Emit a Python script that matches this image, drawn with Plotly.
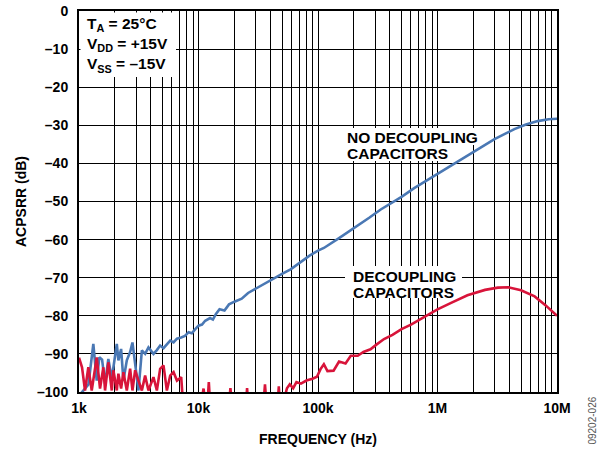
import plotly.graph_objects as go

# ---------------- data ----------------
freq_no_decoupling = [
    1000, 1200, 1318, 1407, 1480, 1560, 1652, 1760, 1880, 2072, 2136, 2251,
    2353, 2513, 2678, 2801, 2951, 3146, 3358, 3576, 3814, 4199, 4483, 4776,
    5095, 5436, 5796, 6185, 6600, 7165, 7700, 8268, 8800, 9397, 10000, 10700,
    11383, 12500, 13200, 14000, 15000, 16500, 18000, 20000, 23000, 26000,
    31000, 36000, 42000, 50000, 59000, 71000, 85000, 100000, 112000, 150000,
    200000, 270000, 335000, 407000, 500000, 638000, 800000, 1000000, 1300000,
    1700000, 2310000, 3000000, 3700000, 4400000, 5500000, 6900000, 8500000,
    10000000,
]
acpsrr_no_decoupling = [
    -101.0, -98.0, -87.4, -97.0, -90.9, -91.5, -97.8, -91.3, -96.5, -87.4, -91.7, -88.7,
    -97.0, -91.7, -89.5, -87.0, -92.6, -99.6, -89.1, -90.0, -88.3, -90.0, -89.0, -87.8,
    -88.5, -87.6, -86.5, -87.0, -86.0, -85.7, -85.3, -84.3, -84.6, -83.5, -82.6, -82.3,
    -81.3, -80.6, -81.0, -79.5, -78.3, -78.6, -77.0, -76.3, -75.5, -74.0,
    -72.6, -71.6, -70.3, -69.0, -67.8, -65.9, -64.2, -62.9, -62.2, -59.6,
    -57.0, -54.2, -52.1, -50.6, -48.8, -46.5, -44.6, -42.8, -40.5,
    -38.3, -35.8, -33.6, -32.2, -31.0, -29.8, -28.9, -28.4,
    -28.3,
]

freq_decoupling = [
    1000, 1019, 1060, 1123, 1197, 1278, 1407, 1500, 1599, 1652, 1760, 1880,
    1940, 2072, 2136, 2251, 2353, 2513, 2678, 2801, 2951, 3146, 3358, 3576,
    3814, 4199, 4483, 4776, 5095, 5436, 5796, 6185, 6600, 7165, 7347,
    9000, 10500, 11027, 11400, 11900, 12200, 12500, 18000, 18500, 19000,
    25000, 25500, 26000, 35000, 36000, 37000, 46000, 47000, 48000,
    53000, 55000, 58000, 62000, 66000, 72000, 80000, 90000, 98000, 105000,
    112000, 120000, 135000, 150000, 170000, 188000, 215000, 240000, 275000,
    310000, 357000, 420000, 500000, 600000, 750000, 1000000, 1300000, 1780000,
    2500000, 3200000, 3900000, 5000000, 6500000, 8000000, 10000000,
]
acpsrr_decoupling = [
    -91.0, -91.7, -93.5, -99.6, -93.5, -99.6, -90.9, -99.1, -93.5, -99.6, -92.2, -99.6,
    -94.3, -99.6, -95.2, -99.1, -94.8, -99.6, -93.9, -99.6, -94.3, -97.0, -99.6, -95.7,
    -99.6, -96.1, -99.6, -93.9, -93.0, -99.6, -95.7, -94.8, -97.0, -96.1, -101.0,
    -103.0, -103.0, -99.1, -103.0, -103.0, -97.4, -103.0, -103.0, -99.0, -103.0,
    -103.0, -99.0, -103.0, -103.0, -98.0, -103.0, -103.0, -98.5, -103.0,
    -101.0, -99.0, -98.0, -99.0, -97.4, -97.8, -97.0, -96.5, -96.0, -94.0,
    -92.7, -94.5, -94.4, -92.0, -92.5, -90.5, -90.5, -89.5, -88.8,
    -87.5, -86.1, -85.0, -83.5, -82.3, -80.5, -78.3, -76.6, -74.6,
    -73.2, -72.6, -72.5, -73.3, -74.9, -77.2, -80.0,
]

x_major_values = [1000, 10000, 100000, 1000000, 10000000]
x_major_labels = ["1k", "10k", "100k", "1M", "10M"]
x_minor_values = [m * 10 ** d for d in range(3, 7) for m in range(2, 10)]
y_tick_values = list(range(-100, 1, 10))
y_tick_labels = [("\u2013" + str(-v)) if v < 0 else "0" for v in y_tick_values]

BLUE = "#4a78b4"
RED = "#d8143a"
FONT = "Liberation Sans"

fig = go.Figure()
fig.add_trace(go.Scatter(x=freq_no_decoupling, y=acpsrr_no_decoupling, mode="lines",
                         line=dict(color=BLUE, width=2.6), showlegend=False, hoverinfo="skip"))
fig.add_trace(go.Scatter(x=freq_decoupling, y=acpsrr_decoupling, mode="lines",
                         line=dict(color=RED, width=2.6), showlegend=False, hoverinfo="skip"))

tickfont = dict(family=FONT, size=14, color="black", weight="bold")

fig.update_xaxes(
    type="log", range=[3, 7], automargin=False,
    tickvals=x_major_values, ticktext=x_major_labels,
    showgrid=True, gridcolor="black", gridwidth=1,
    minor=dict(tickvals=x_minor_values, showgrid=True, gridcolor="black", gridwidth=1, ticks=""),
    showline=True, linecolor="black", linewidth=2, mirror=True,
    ticks="outside", ticklen=2, tickcolor="rgba(0,0,0,0)",
    tickfont=tickfont, zeroline=False,
    title=dict(text="FREQUENCY (Hz)", font=tickfont, standoff=19),
)
fig.update_yaxes(
    range=[-100, 0], automargin=False,
    tickvals=y_tick_values, ticktext=y_tick_labels,
    showgrid=True, gridcolor="black", gridwidth=1,
    showline=True, linecolor="black", linewidth=2, mirror=True,
    ticks="outside", ticklen=6, tickcolor="rgba(0,0,0,0)",
    tickfont=tickfont, zeroline=False,
    title=dict(text="ACPSRR (dB)", font=tickfont, standoff=7),
)

# white boxes behind the labels (hide the grid lines), in plot-area pixels
PW, PH = 478.0, 381.0
boxes = [  # (left, top, right, bottom)
    (1.5, 1.5, 97, 66),
    (261, 117, 398, 134),
    (261, 134, 371, 150),
    (266, 255, 383, 273),
    (266, 273, 376, 287),
]
for l, t, r, b in boxes:
    fig.add_shape(type="rect", xref="paper", yref="paper",
                  x0=l / PW, x1=r / PW, y0=1 - b / PH, y1=1 - t / PH,
                  fillcolor="white", line=dict(width=0), layer="above")

labfont = dict(family=FONT, size=15.5, color="black", weight="bold")
annots = [
    ("T<sub>A</sub> = 25°C<br>V<sub>DD</sub> = +15V<br>V<sub>SS</sub> = \u201315V", 3.052, -8.8),
    ("NO DECOUPLING", 5.222, -33.2),
    ("CAPACITORS", 5.222, -37.45),
    ("DECOUPLING", 5.278, -69.6),
    ("CAPACITORS", 5.278, -73.85),
]
for text, xl, yv in annots:
    fig.add_annotation(x=xl, y=yv, xref="x", yref="y", text=text, showarrow=False,
                       xanchor="left", yanchor="middle", font=labfont, align="left")

fig.add_annotation(x=1.074, y=-0.074, xref="paper", yref="paper", text="09202-026",
                   textangle=-90, showarrow=False, xanchor="center", yanchor="middle",
                   font=dict(family=FONT, size=10, color="#555555"))

fig.update_layout(
    width=600, height=450,
    margin=dict(l=79, r=43, t=11, b=58),
    paper_bgcolor="white", plot_bgcolor="white",
    showlegend=False,
)

fig.write_html("out.html", config={"displayModeBar": False},
               post_script="document.body.style.margin='0';")
